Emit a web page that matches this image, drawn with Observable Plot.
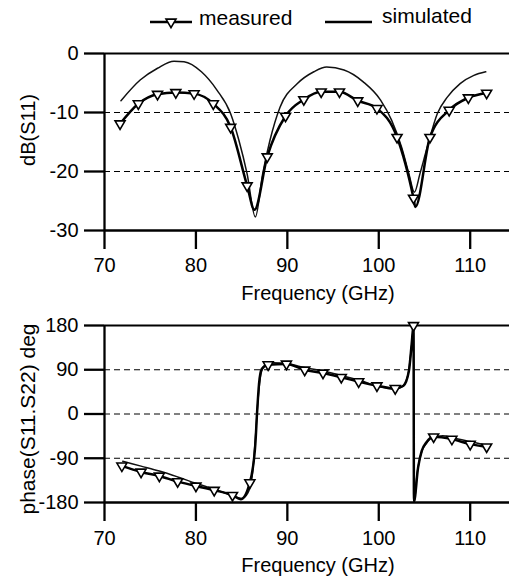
<!DOCTYPE html>
<html><head><meta charset="utf-8">
<script src="https://cdn.jsdelivr.net/npm/d3@7"></script>
<script src="https://cdn.jsdelivr.net/npm/@observablehq/plot@0.6"></script>
<style>body{margin:0;background:#fff;font-family:"Liberation Sans",Arial,sans-serif}#chart svg{display:block}</style>
</head><body><div id="chart"></div>
<script>
// ---------- data ----------
const xTicks = [70, 80, 90, 100, 110];
const yTicksTop = [0, -10, -20, -30];
const yTicksBottom = [180, 90, 0, -90, -180];

// top: measured |S11| (markers)
const s11MeasFreq = [71.7,73.7,75.8,77.8,79.8,81.9,83.8,85.6,87.8,89.8,91.8,93.7,95.7,97.7,99.8,102.0,103.8,105.6,107.7,109.8,111.8];
const s11Meas     = [-11.9,-8.5,-6.9,-6.6,-6.8,-8.5,-12.5,-22.4,-17.5,-10.6,-7.8,-6.5,-6.5,-8.0,-9.3,-14.2,-24.5,-14.2,-9.6,-7.5,-6.7];
// top: measured curve points between markers (resonance dips)
const s11MeasDipFreq = [86.4, 104.0];
const s11MeasDip     = [-26.5, -26.0];
// top: simulated |S11|
const s11SimFreq = [71.8,73.9,75.8,77.6,78.7,80.6,82.3,83.8,84.7,85.6,86.5,87.3,88.1,89.2,91.1,92.9,94.3,96.2,98.3,100.2,101.4,102.5,103.3,103.9,104.5,105.3,106.4,107.5,108.9,110.4,111.7];
const s11Sim     = [-8.0,-4.5,-2.5,-1.3,-1.4,-3.1,-6.2,-10.2,-14.7,-20.4,-27.7,-20.4,-14.7,-9.1,-5.1,-3.1,-2.3,-2.8,-4.8,-7.9,-11.3,-15.9,-20.4,-23.5,-20.4,-15.9,-10.2,-7.4,-5.1,-3.7,-3.1];

// bottom: measured phase (markers)
const phMeasFreq = [71.9,74.0,76.0,78.0,80.0,82.0,84.0,85.9,87.9,89.9,91.9,93.9,95.9,97.8,99.8,101.8,103.8,106.0,108.0,110.0,111.8];
const phMeas     = [-105.5,-117.8,-126,-137.5,-146.3,-155,-165.3,-139.6,100.4,101.8,89.6,83.5,74.6,65.8,57.6,52.1,180,-46.4,-51.1,-61.3,-66.8];
// bottom: measured curve points between markers (transitions)
const phMeasExtraFreq = [84.9, 86.5, 86.7, 86.9, 87.2, 102.7, 103.3, 103.6, 103.85, 104.3, 104.7, 105.2];
const phMeasExtra     = [-173.5, -61, 6.6, 61, 91.7, 57.6, 88, 142.6, -178, -109, -75, -58];
// bottom: simulated phase
const phSimFreq = [72,74,76,78,80,82,84,85,85.7,86.2,86.5,86.8,87.1,87.5,88.5,90,92,94,96,98,100,101.5,102.5,103.2,103.6,103.82,103.88,104.2,104.6,105.2,106,107,108,110,112];
const phSim     = [-96,-106,-116,-128,-141,-153,-166,-172,-160,-120,-50,30,80,98,104,102,94,87,78,68,56,51,55,80,140,179,-179,-120,-82,-60,-47,-44,-48,-56,-65];

// legend labels
const legendLabels = ["measured", "simulated"];

// ---------- helpers ----------
const zip = (xs, ys) => xs.map((f, i) => ({f, v: ys[i]}));
const byF = (a, b) => a.f - b.f;
const invTri = {
  draw(ctx, size) {
    const w = Math.sqrt(size) * 0.705, h = w * 1.7;
    ctx.moveTo(-w, -h / 3); ctx.lineTo(w, -h / 3); ctx.lineTo(0, 2 * h / 3); ctx.closePath();
  }
};
const FONT = '"Liberation Sans", Arial, sans-serif';
const xDomain = [70, 114.3];

const topMarkers = zip(s11MeasFreq, s11Meas);
const topMeasLine = [...topMarkers, ...zip(s11MeasDipFreq, s11MeasDip)].sort(byF);
const topSim = zip(s11SimFreq, s11Sim);
const botMarkers = zip(phMeasFreq, phMeas);
const botMeasLine = [...botMarkers, ...zip(phMeasExtraFreq, phMeasExtra)].sort(byF);
const botSim = zip(phSimFreq, phSim);

const root = document.getElementById("chart");

// ---------- legend ----------
const lg = d3.create("svg").attr("width", 509).attr("height", 40).style("font-family", FONT);
lg.append("line").attr("x1", 150).attr("x2", 192).attr("y1", 22).attr("y2", 22).attr("stroke", "black").attr("stroke-width", 2.4);
lg.append("path").attr("transform", "translate(171,22)")
  .attr("d", "M-5,-2.83L5,-2.83L0,5.67Z").attr("fill", "white").attr("stroke", "black").attr("stroke-width", 1.6);
lg.append("text").attr("x", 199).attr("y", 25).attr("font-size", 21).text(legendLabels[0]);
lg.append("line").attr("x1", 325).attr("x2", 372).attr("y1", 22).attr("y2", 22).attr("stroke", "black").attr("stroke-width", 2.4);
lg.append("text").attr("x", 382).attr("y", 23).attr("font-size", 21).text(legendLabels[1]);
root.append(lg.node());

// ---------- top chart ----------
const style = {fontFamily: FONT, fontSize: "20px", color: "black", background: "white", overflow: "visible"};
const topPlot = Plot.plot({
  width: 509, height: 265,
  marginLeft: 104, marginRight: 0, marginTop: 13, marginBottom: 75,
  style,
  x: {domain: xDomain},
  y: {domain: [-30, 0]},
  marks: [
    Plot.ruleY([-10, -20], {stroke: "black", strokeWidth: 1, strokeDasharray: "6,4"}),
    Plot.ruleY([0], {stroke: "black", strokeWidth: 2}),
    Plot.ruleY([-30], {stroke: "black", strokeWidth: 2.3}),
    Plot.ruleX([70], {stroke: "black", strokeWidth: 2.3}),
    Plot.axisY({ticks: yTicksTop, tickSize: 20, tickPadding: 6, strokeWidth: 2.3, label: null, tickFormat: d => String(d)}),
    Plot.axisX({ticks: xTicks, tickSize: 19, tickPadding: 8, strokeWidth: 2.3, label: null, tickFormat: d => String(d)}),
    Plot.text(["Frequency (GHz)"], {frameAnchor: "bottom", lineAnchor: "top", textAnchor: "middle", dy: 55, dx: 11}),
    Plot.text(["dB(S11)"], {frameAnchor: "left", textAnchor: "middle", rotate: -90, dx: -76, dy: -12}),
    Plot.line(topSim, {x: "f", y: "v", curve: "monotone-x", stroke: "#111", strokeWidth: 1.5}),
    Plot.line(topMeasLine, {x: "f", y: "v", curve: "monotone-x", stroke: "black", strokeWidth: 2.5}),
    Plot.dot(topMarkers, {x: "f", y: "v", symbol: invTri, r: 4, fill: "white", stroke: "black", strokeWidth: 1.6})
  ]
});
root.append(topPlot);

// ---------- bottom chart ----------
const botPlot = Plot.plot({
  width: 509, height: 277,
  marginLeft: 104, marginRight: 0, marginTop: 20, marginBottom: 80,
  style,
  x: {domain: xDomain},
  y: {domain: [-180, 180]},
  marks: [
    Plot.ruleY([90, 0, -90], {stroke: "black", strokeWidth: 1, strokeDasharray: "6,4"}),
    Plot.ruleY([180], {stroke: "black", strokeWidth: 2}),
    Plot.ruleY([-180], {stroke: "black", strokeWidth: 2.3}),
    Plot.ruleX([70], {stroke: "black", strokeWidth: 2.3}),
    Plot.axisY({ticks: yTicksBottom, tickSize: 20, tickPadding: 6, strokeWidth: 2.3, label: null, tickFormat: d => String(d)}),
    Plot.axisX({ticks: xTicks, tickSize: 19, tickPadding: 9, strokeWidth: 2.3, label: null, tickFormat: d => String(d)}),
    Plot.text(["Frequency (GHz)"], {frameAnchor: "bottom", lineAnchor: "top", textAnchor: "middle", dy: 55, dx: 11}),
    Plot.text(["phase(S11.S22) deg"], {frameAnchor: "left", textAnchor: "middle", rotate: -90, dx: -76, dy: 5, fontSize: 21}),
    Plot.line(botSim, {x: "f", y: "v", curve: "monotone-x", stroke: "#111", strokeWidth: 1.5}),
    Plot.line(botMeasLine, {x: "f", y: "v", curve: "monotone-x", stroke: "black", strokeWidth: 2.5}),
    Plot.dot(botMarkers, {x: "f", y: "v", symbol: invTri, r: 4, fill: "white", stroke: "black", strokeWidth: 1.6})
  ]
});
root.append(botPlot);
</script></body></html>
